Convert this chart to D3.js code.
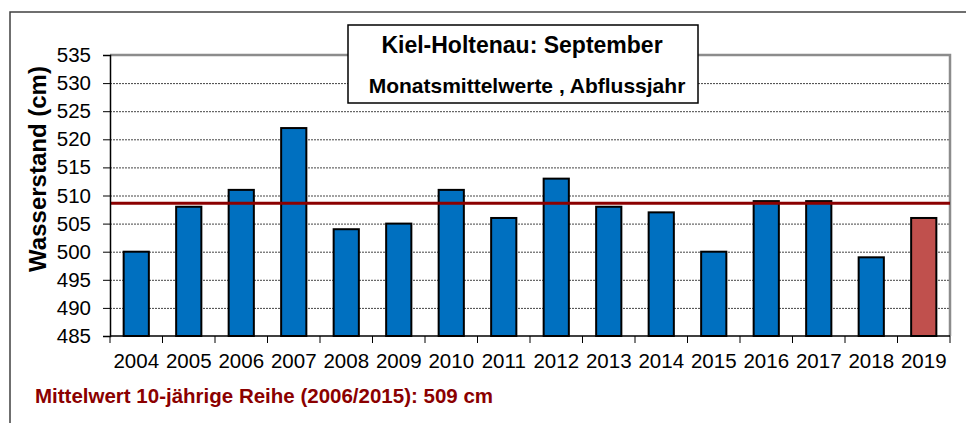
<!DOCTYPE html>
<html>
<head>
<meta charset="utf-8">
<script src="https://cdn.jsdelivr.net/npm/d3@7"></script>
<style>
  body { margin:0; background:#fff; }
  svg text { font-family: "Liberation Sans", Arial, sans-serif; }
</style>
</head>
<body>
<svg id="chart" width="966" height="423"></svg>
<script>
const years = ['2004','2005','2006','2007','2008','2009','2010','2011','2012','2013','2014','2015','2016','2017','2018','2019'];
const values = [500,508,511,522,504,505,511,506,513,508,507,500,509,509,499,506];
const meanValue = 508.6;
const yTicks = [485,490,495,500,505,510,515,520,525,530,535];
const highlightYear = '2019';

(function(){
    const svg = d3.select('#chart');
    const plot = {left:110, right:950, top:55, bottom:336};

    const x = d3.scaleBand().domain(years).range([plot.left, plot.right]).padding(0);
    const y = d3.scaleLinear().domain([485,535]).range([plot.bottom, plot.top]);
    const barW = x.bandwidth()*0.48;

    // outer frame (only top + left visible)
    svg.append('path').attr('d','M10,423 L10,12 L966,12')
        .attr('fill','none').attr('stroke','#404040').attr('stroke-width',1.5);

    // gridlines
    svg.append('g').selectAll('line').data(yTicks.filter(d=>d>485 && d<535)).join('line')
        .attr('x1',plot.left).attr('x2',plot.right)
        .attr('y1',d=>y(d)+0.5).attr('y2',d=>y(d)+0.5)
        .attr('stroke','#444').attr('stroke-width',1).attr('stroke-dasharray','2,1');

    // plot area border top + right (gray)
    svg.append('path').attr('d',`M${plot.left},${plot.top} L${plot.right},${plot.top} L${plot.right},${plot.bottom}`)
        .attr('fill','none').attr('stroke','#8c8c8c').attr('stroke-width',2.5);

    // bars
    svg.append('g').selectAll('rect').data(years).join('rect')
        .attr('x',(d)=>x(d)+(x.bandwidth()-barW)/2)
        .attr('y',(d,i)=>y(values[i]))
        .attr('width',barW)
        .attr('height',(d,i)=>y(485)-y(values[i]))
        .attr('fill',d=>d===highlightYear ? '#C0504D' : '#0070C0')
        .attr('stroke','#000').attr('stroke-width',2);

    // mean line
    svg.append('line').attr('x1',plot.left).attr('x2',plot.right)
        .attr('y1',y(meanValue)).attr('y2',y(meanValue))
        .attr('stroke','#8B0000').attr('stroke-width',3);

    // y axis
    const yAxis = svg.append('g').attr('transform',`translate(${plot.left},0)`)
        .call(d3.axisLeft(y).tickValues(yTicks).tickSize(7).tickPadding(12).tickFormat(d3.format('d')));
    yAxis.select('.domain').attr('stroke','#000').attr('stroke-width',1.5);
    yAxis.selectAll('.tick line').attr('stroke','#000');
    yAxis.selectAll('text').style('font-size','20.5px').attr('fill','#000');

    // x axis: ticks at category boundaries
    const xg = svg.append('g');
    xg.append('line').attr('x1',plot.left).attr('x2',plot.right)
        .attr('y1',plot.bottom).attr('y2',plot.bottom).attr('stroke','#000').attr('stroke-width',1.5);
    const bounds = years.map(d=>x(d)).concat([x(years[years.length-1])+x.step()]);
    xg.selectAll('line.tk').data(bounds).join('line').attr('class','tk')
        .attr('x1',d=>d).attr('x2',d=>d).attr('y1',plot.bottom).attr('y2',plot.bottom+7)
        .attr('stroke','#000').attr('stroke-width',1);
    xg.selectAll('text').data(years).join('text')
        .attr('x',d=>x(d)+x.bandwidth()/2).attr('y',367.5)
        .attr('text-anchor','middle').style('font-size','20.5px').attr('fill','#000')
        .text(d=>d);

    // y axis label
    svg.append('text')
        .attr('transform','translate(46,169) rotate(-90)')
        .attr('text-anchor','middle')
        .style('font-size','24px').style('font-weight','bold')
        .text('Wasserstand (cm)');

    // title box
    svg.append('rect').attr('x',348).attr('y',25).attr('width',350).attr('height',78)
        .attr('fill','#fff').attr('stroke','#000').attr('stroke-width',1.5);
    svg.append('text').attr('x',522).attr('y',52.5).attr('text-anchor','middle')
        .style('font-size','23px').style('font-weight','bold')
        .text('Kiel-Holtenau: September');
    svg.append('text').attr('x',527).attr('y',92.5).attr('text-anchor','middle')
        .style('font-size','21px').style('font-weight','bold')
        .text('Monatsmittelwerte , Abflussjahr');

    // mean note
    svg.append('text').attr('x',35).attr('y',403)
        .style('font-size','20.5px').style('font-weight','bold').attr('fill','#8B0000')
        .text('Mittelwert 10-jährige Reihe (2006/2015): 509 cm');
})();
</script>
</body>
</html>
